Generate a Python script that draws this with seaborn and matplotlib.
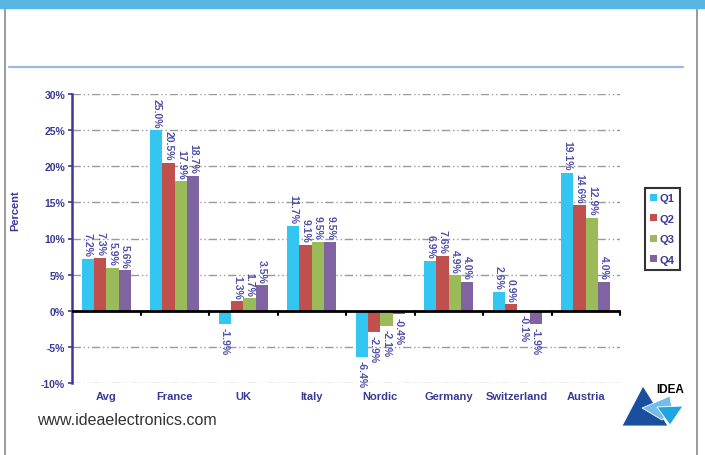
import matplotlib
matplotlib.use("Agg")
import matplotlib.pyplot as plt
import seaborn as sns
import pandas as pd
from matplotlib.lines import Line2D
from matplotlib.patches import Polygon, Rectangle

categories = ["Avg", "France", "UK", "Italy", "Nordic", "Germany", "Switzerland", "Austria"]
quarters = ["Q1", "Q2", "Q3", "Q4"]
q1 = [7.2, 25.0, -1.9, 11.7, -6.4, 6.9, 2.6, 19.1]
q2 = [7.3, 20.5, 1.3, 9.1, -2.9, 7.6, 0.9, 14.6]
q3 = [5.9, 17.9, 1.7, 9.5, -2.1, 4.9, -0.1, 12.9]
q4 = [5.6, 18.7, 3.5, 9.5, -0.4, 4.0, -1.9, 4.0]
yticks = [-10, -5, 0, 5, 10, 15, 20, 25, 30]
colors = ["#33C6F0", "#C0504D", "#9BBB59", "#8064A2"]

rows = []
for q, vals in zip(quarters, [q1, q2, q3, q4]):
    for c, v in zip(categories, vals):
        rows.append({"Region": c, "Quarter": q, "Value": v})
df = pd.DataFrame(rows)

sns.set_theme(style="white")
plt.rcParams["font.family"] = ["Liberation Sans", "DejaVu Sans"]
navy = "#3A3A96"
lblc = "#4F4FA8"

fig = plt.figure(figsize=(7.05, 4.56), dpi=100)
ax = fig.add_axes([72/705, 1-384/456, (620-72)/705, (384-95)/456])

sns.barplot(data=df, x="Region", y="Value", hue="Quarter", order=categories,
            hue_order=quarters, palette=colors, width=0.72, gap=0, ax=ax,
            saturation=1, edgecolor="none", legend=True)

ax.set_ylim(-10, 30)
ax.set_xlim(-0.5, len(categories) - 0.5)
ax.set_yticks(yticks)
ax.set_yticklabels([f"{t}%" for t in yticks], fontsize=7.5, fontweight="bold", color=navy)
ax.set_xticks(range(len(categories)))
ax.set_xticklabels(categories, fontsize=8, fontweight="bold", color=navy)
ax.tick_params(axis="x", length=0, pad=6)
ax.tick_params(axis="y", length=3, width=1.2, color=navy, direction="out", pad=2, left=True)
ax.set_xlabel("")
ax.set_ylabel("Percent", fontsize=8, fontweight="bold", color=navy)
ax.yaxis.set_label_coords((20-72)/548, 0.6)

for s in ["top", "right", "bottom"]:
    ax.spines[s].set_visible(False)
ax.spines["left"].set_color(navy)
ax.spines["left"].set_linewidth(1.8)

for t in yticks:
    if t != 0:
        ax.axhline(t, color="#999999", lw=1.0, ls=(0, (6, 2, 1, 2, 1, 2)), zorder=0)
ax.axhline(0, color="black", lw=2, zorder=3)
for k in range(1, len(categories) + 1):
    ax.plot([k - 0.5, k - 0.5], [0, -0.6], color="black", lw=1.5, zorder=3, clip_on=False)

for cont in ax.containers:
    for bar in cont:
        h = bar.get_height()
        x = bar.get_x() + bar.get_width() / 2
        if h >= 0:
            ax.text(x, h + 0.4, f"{h:.1f}%", rotation=-90, ha="center", va="bottom",
                    fontsize=7.5, fontweight="bold", color=lblc, zorder=4)
        else:
            ax.text(x, h - 0.4, f"{h:.1f}%", rotation=-90, ha="center", va="top",
                    fontsize=7.5, fontweight="bold", color=lblc, zorder=4)

leg = ax.legend(loc="upper left", bbox_to_anchor=(645/705, 1-189/456),
                bbox_transform=fig.transFigure, frameon=True, fancybox=False,
                borderaxespad=0, handlelength=0.6, handleheight=0.6, handletextpad=0.3,
                labelspacing=0.95, borderpad=0.45, fontsize=8, title=None)
leg.get_frame().set_edgecolor("black")
leg.get_frame().set_linewidth(1.5)
for txt in leg.get_texts():
    txt.set_color(navy)
    txt.set_fontweight("bold")

# page frame
fig.add_artist(Rectangle((0, 1-9/456), 1, 9/456, transform=fig.transFigure,
                         color="#55B7E2", zorder=5))
fig.add_artist(Line2D([5/705, 5/705], [0, 1-9/456], transform=fig.transFigure,
                      color="#8A8A8A", lw=1.2))
fig.add_artist(Line2D([697/705, 697/705], [0, 1-9/456], transform=fig.transFigure,
                      color="#8A8A8A", lw=1.2))
fig.add_artist(Line2D([9/705, 683/705], [1-68/456, 1-68/456], transform=fig.transFigure,
                      color="#9DB9DC", lw=1.6))

fig.text(37/705, 1-421/456, "www.ideaelectronics.com", fontsize=11.5, color="#333333",
         va="center", ha="left")

# logo
def P(pts, col):
    fig.add_artist(Polygon([(x/705, 1-y/456) for x, y in pts], closed=True,
                           transform=fig.transFigure, facecolor=col, edgecolor="white", lw=0.6))
P([(643, 387), (622, 427), (668, 427)], "#1A4FA0")
P([(642, 409), (670, 397), (672, 410), (662, 421)], "#74BDEB")
P([(657, 408), (683, 407), (670, 426)], "#1DA6E2")
fig.text(670/705, 1-390/456, "IDEA", fontsize=8.5, fontweight="bold", color="black",
         ha="center", va="center")

fig.savefig("out.png", dpi=100)
